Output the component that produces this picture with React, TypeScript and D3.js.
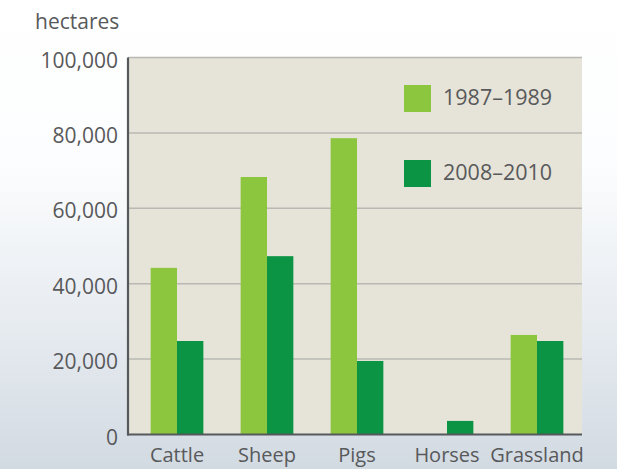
import React from "react";
import * as d3 from "d3";

const categories = ["Cattle", "Sheep", "Pigs", "Horses", "Grassland"];
const seriesNames = ["1987–1989", "2008–2010"];
const values1987 = [44200, 68300, 78600, 0, 26400];
const values2008 = [24800, 47300, 19500, 3600, 24800];
const yTicks = [0, 20000, 40000, 60000, 80000, 100000];
const colors = ["#8cc63f", "#0b9444"];

const W = 617;
const H = 469;
const plotLeft = 128;
const plotRight = 582;
const plotTop = 57.5;
const plotBottom = 434.5;
const FONT = "'Open Sans', 'Noto Sans', sans-serif";
const TEXT = "#58595b";

export default function App() {
  const y = d3.scaleLinear().domain([0, 100000]).range([plotBottom, plotTop]);
  const x = d3
    .scaleBand<string>()
    .domain(categories)
    .range([132, 582])
    .paddingInner(0.4144)
    .paddingOuter(0.2072);
  const inner = d3
    .scaleBand<string>()
    .domain(seriesNames)
    .range([0, x.bandwidth()]);
  const series = [values1987, values2008];
  const fmt = d3.format(",");

  return (
    <svg
      width={W}
      height={H}
      style={{ position: "absolute", left: 0, top: 0, display: "block" }}
      fontFamily={FONT}
    >
      <defs>
        <linearGradient id="bg" x1="0" y1="0" x2="0" y2="1">
          <stop offset="0" stopColor="#ffffff" />
          <stop offset="0.35" stopColor="#fcfdfe" />
          <stop offset="0.7" stopColor="#e6ebf0" />
          <stop offset="1" stopColor="#d2dae2" />
        </linearGradient>
      </defs>
      <rect x={0} y={0} width={W} height={H} fill="url(#bg)" />
      <rect
        x={plotLeft}
        y={plotTop}
        width={plotRight - plotLeft}
        height={plotBottom - plotTop}
        fill="#e6e3d8"
      />
      {yTicks
        .filter((t) => t > 0)
        .map((t) => (
          <line
            key={"g" + t}
            x1={plotLeft}
            x2={plotRight}
            y1={y(t)}
            y2={y(t)}
            stroke="#b9b8b3"
            strokeWidth={1.5}
          />
        ))}
      {series.map((vals, si) =>
        categories.map((c, i) => (
          <rect
            key={si + "-" + c}
            x={(x(c) as number) + (inner(seriesNames[si]) as number)}
            y={y(vals[i])}
            width={inner.bandwidth()}
            height={plotBottom - y(vals[i])}
            fill={colors[si]}
          />
        ))
      )}
      <line
        x1={plotLeft}
        x2={plotLeft}
        y1={plotTop}
        y2={plotBottom + 1}
        stroke="#55595c"
        strokeWidth={2.2}
      />
      <line
        x1={plotLeft - 1}
        x2={plotRight}
        y1={plotBottom}
        y2={plotBottom}
        stroke="#55595c"
        strokeWidth={2.2}
      />
      {yTicks.map((t) => (
        <text
          key={"t" + t}
          x={118}
          y={y(t) + 10}
          textAnchor="end"
          fontSize={21}
          fill={TEXT}
        >
          {fmt(t)}
        </text>
      ))}
      <text x={35} y={29} fontSize={21} fill={TEXT}>
        hectares
      </text>
      {categories.map((c) => (
        <text
          key={"c" + c}
          x={(x(c) as number) + x.bandwidth() / 2}
          y={462}
          textAnchor="middle"
          fontSize={20}
          fill={TEXT}
        >
          {c}
        </text>
      ))}
      {seriesNames.map((s, i) => (
        <g key={"l" + s} transform={`translate(404, ${85 + i * 75})`}>
          <rect x={0} y={0} width={27} height={27} fill={colors[i]} />
          <text x={39} y={20} fontSize={21.5} fill={TEXT}>
            {s}
          </text>
        </g>
      ))}
    </svg>
  );
}
